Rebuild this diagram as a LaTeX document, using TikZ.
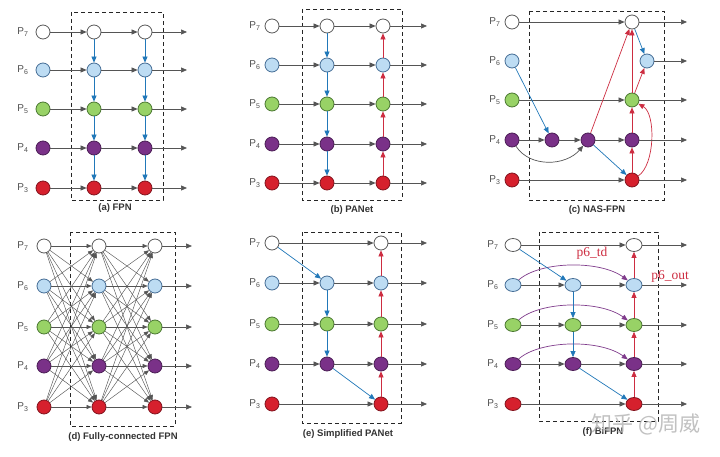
\documentclass[tikz,border=0pt]{standalone}
\usepackage{fontspec}
\setmainfont{Liberation Sans}
\newfontfamily\serifface{Liberation Serif}
\newfontfamily\cjk{Noto Sans CJK SC}
\usetikzlibrary{arrows.meta,shapes.geometric}

\definecolor{fill7}{RGB}{255,255,255}
\definecolor{line7}{RGB}{90,90,90}
\definecolor{fill6}{RGB}{189,220,243}
\definecolor{line6}{RGB}{70,110,150}
\definecolor{fill5}{RGB}{152,210,102}
\definecolor{line5}{RGB}{75,120,50}
\definecolor{fill4}{RGB}{122,49,136}
\definecolor{line4}{RGB}{75,30,85}
\definecolor{fill3}{RGB}{214,32,45}
\definecolor{line3}{RGB}{130,20,30}
\definecolor{arrgray}{RGB}{85,85,85}
\definecolor{edgeblu}{RGB}{33,120,185}
\definecolor{edgered}{RGB}{205,45,65}
\definecolor{edgepur}{RGB}{128,60,140}
\definecolor{labgray}{RGB}{80,80,80}

\begin{document}
\begin{tikzpicture}[x=1pt,y=-1pt,
  dot/.style={circle,draw,line width=0.8pt,minimum size=14pt,inner sep=0pt},
  egg/.style={ellipse,draw,line width=0.8pt,minimum width=16pt,minimum height=13pt,inner sep=0pt},
  lvl7/.style={fill=fill7,draw=line7},
  lvl6/.style={fill=fill6,draw=line6},
  lvl5/.style={fill=fill5,draw=line5},
  lvl4/.style={fill=fill4,draw=line4},
  lvl3/.style={fill=fill3,draw=line3},
  lab/.style={text=labgray,font=\fontsize{10}{12}\selectfont},
  caption/.style={text=black!80,font=\bfseries\fontsize{9.5}{11}\selectfont},
  redlab/.style={text=edgered,font=\serifface\fontsize{13.5}{15}\selectfont},
  box/.style={draw=black!85,line width=0.9pt,dash pattern=on 4pt off 3pt},
  gry/.style={draw=arrgray,line width=0.7pt,-{Triangle[length=6pt,width=5pt]}},
  thin/.style={draw=arrgray,line width=0.45pt,-{Triangle[length=5pt,width=4pt]}},
  blu/.style={draw=edgeblu,line width=0.7pt,-{Triangle[length=6pt,width=5pt]}},
  rd/.style={draw=edgered,line width=0.7pt,-{Triangle[length=6pt,width=5pt]}},
  pur/.style={draw=edgepur,line width=0.7pt,-{Triangle[length=6pt,width=5pt]}}]
\fill[white] (0,0) rectangle (720,457);
\useasboundingbox (0,0) rectangle (720,457);

% (a) FPN
\draw[box] (71,12) rectangle (163,200);
\foreach \i/\y in {7/32,6/70,5/109,4/148,3/188}{
  \node[lab] (aP\i) at (23,\y) {P\textsubscript{\i}};
  \node[dot,lvl\i] (aL\i) at (43,\y) {};
  \node[dot,lvl\i] (aM\i) at (94,\y) {};
  \node[dot,lvl\i] (aR\i) at (145,\y) {};
  \draw[gry] (aL\i) -- (aM\i);
  \draw[gry] (aM\i) -- (aR\i);
  \draw[gry] (aR\i) -- ++(42,0);
}
\foreach \i/\j in {7/6,6/5,5/4,4/3}{
  \draw[blu] (aM\i) -- (aM\j);
  \draw[blu] (aR\i) -- (aR\j);
}
\node[caption] (acap) at (115,208) {(a) FPN};

% (b) PANet
\draw[box] (302,9) rectangle (402,200);
\foreach \i/\y in {7/26,6/65,5/104,4/144,3/183}{
  \node[lab] (bP\i) at (255,\y) {P\textsubscript{\i}};
  \node[dot,lvl\i] (bL\i) at (272,\y) {};
  \node[dot,lvl\i] (bM\i) at (327,\y) {};
  \node[dot,lvl\i] (bR\i) at (383,\y) {};
  \draw[gry] (bL\i) -- (bM\i);
  \draw[gry] (bM\i) -- (bR\i);
  \draw[gry] (bR\i) -- ++(44,0);
}
\foreach \i/\j in {7/6,6/5,5/4,4/3}{
  \draw[blu] (bM\i) -- (bM\j);
  \draw[rd] (bR\j) -- (bR\i);
}
\node[caption] (bcap) at (352,210) {(b) PANet};

% (c) NAS-FPN
\draw[box] (529,11) rectangle (664,200);
\foreach \i/\y in {7/22,6/61,5/100,4/140,3/180}{
  \node[lab] (cP\i) at (495,\y) {P\textsubscript{\i}};
  \node[dot,lvl\i] (cL\i) at (512,\y) {};
}
\node[dot,lvl7] (cO7) at (632,22) {};
\node[dot,lvl6] (cO6) at (647,61) {};
\node[dot,lvl5] (cO5) at (632,100) {};
\node[dot,lvl4] (cA4) at (552,140) {};
\node[dot,lvl4] (cB4) at (588,140) {};
\node[dot,lvl4] (cO4) at (632,140) {};
\node[dot,lvl3] (cO3) at (632,180) {};
\draw[gry] (cL7) -- (cO7);
\draw[gry] (cL5) -- (cO5);
\draw[gry] (cL4) -- (cA4);
\draw[gry] (cA4) -- (cB4);
\draw[gry] (cB4) -- (cO4);
\draw[gry] (cL3) -- (cO3);
\draw[gry] (cL4) .. controls (530,168) and (566,166) .. (cB4);
\draw[blu] (cL6) -- (cA4);
\draw[blu] (cB4) -- (cO3);
\draw[blu] (cO7) -- (cO6);
\draw[rd] (cO3) -- (cO4);
\draw[rd] (cO4) -- (cO5);
\draw[rd] (cO5) -- (cO7);
\draw[rd] (cO5) -- (cO6);
\draw[rd] (cB4) -- (cO7);
\draw[rd] (cO3) .. controls (655,165) and (656,114) .. (cO5);
\foreach \i in {7,6,5,4,3}{
  \draw[gry] (cO\i) -- (687,0 |- cO\i);
}
\node[caption] (ccap) at (597,210) {(c) NAS-FPN};

% (d) Fully-connected FPN
\draw[box] (70,232) rectangle (175,426);
\foreach \i/\y in {7/246,6/286,5/327,4/366,3/407}{
  \node[lab] (dP\i) at (23,\y) {P\textsubscript{\i}};
  \node[dot,lvl\i] (dL\i) at (44,\y) {};
  \node[dot,lvl\i] (dM\i) at (99,\y) {};
  \node[dot,lvl\i] (dR\i) at (155,\y) {};
  \draw[gry] (dR\i) -- ++(37,0);
}
\foreach \i in {7,6,5,4,3}{
  \foreach \j in {7,6,5,4,3}{
    \draw[thin] (dL\i) -- (dM\j);
    \draw[thin] (dM\i) -- (dR\j);
  }
}
\node[caption] (dcap) at (123,437) {(d) Fully-connected FPN};

% (e) Simplified PANet
\draw[box] (302,232) rectangle (401,423);
\foreach \i/\y in {7/243,6/283,5/324,4/364,3/404}{
  \node[lab] (eP\i) at (255,\y) {P\textsubscript{\i}};
  \node[dot,lvl\i] (eL\i) at (272,\y) {};
  \node[dot,lvl\i] (eR\i) at (381,\y) {};
  \draw[gry] (eR\i) -- ++(46,0);
}
\foreach \i/\y in {6/283,5/324,4/364}{
  \node[dot,lvl\i] (eM\i) at (327,\y) {};
  \draw[gry] (eL\i) -- (eM\i);
  \draw[gry] (eM\i) -- (eR\i);
}
\draw[gry] (eL7) -- (eR7);
\draw[gry] (eL3) -- (eR3);
\draw[blu] (eL7) -- (eM6);
\draw[blu] (eM6) -- (eM5);
\draw[blu] (eM5) -- (eM4);
\draw[blu] (eM4) -- (eR3);
\foreach \i/\j in {7/6,6/5,5/4,4/3}{
  \draw[rd] (eR\j) -- (eR\i);
}
\node[caption] (ecap) at (348,434) {(e) Simplified PANet};

% (f) BiFPN
\draw[box] (539,232) rectangle (658,421);
\foreach \i/\y in {7/245,6/285,5/325,4/364,3/404}{
  \node[lab] (fP\i) at (493,\y) {P\textsubscript{\i}};
  \node[egg,lvl\i] (fL\i) at (513,\y) {};
  \node[egg,lvl\i] (fR\i) at (634,\y) {};
  \draw[gry] (fR\i) -- ++(53,0);
}
\foreach \i/\y in {6/285,5/325,4/364}{
  \node[egg,lvl\i] (fM\i) at (573,\y) {};
  \draw[gry] (fL\i) -- (fM\i);
  \draw[gry] (fM\i) -- (fR\i);
  \draw[pur] (fL\i) .. controls (540,\y-24) and (600,\y-25) .. (fR\i);
}
\draw[gry] (fL7) -- (fR7);
\draw[gry] (fL3) -- (fR3);
\draw[blu] (fL7) -- (fM6);
\draw[blu] (fM6) -- (fM5);
\draw[blu] (fM5) -- (fM4);
\draw[blu] (fM4) -- (fR3);
\foreach \i/\j in {7/6,6/5,5/4,4/3}{
  \draw[rd] (fR\j) -- (fR\i);
}
\node[redlab] (ptd) at (592,253) {p6\_td};
\node[redlab] (pout) at (670,276) {p6\_out};
\node[caption] (fcap) at (603,432) {(f) BiFPN};
\node[text=black!30,opacity=0.8,font=\cjk\fontsize{21}{24}\selectfont] (mark) at (646,424) {知乎 @周威};
\end{tikzpicture}
\end{document}
